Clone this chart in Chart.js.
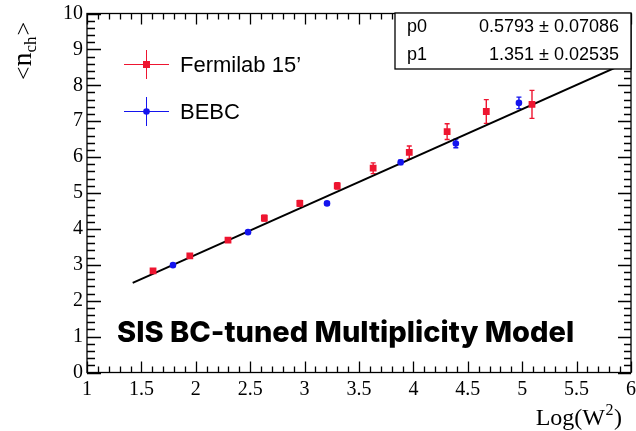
<!DOCTYPE html>
<html>
<head>
<meta charset="utf-8">
<script src="https://cdn.jsdelivr.net/npm/chart.js@4/dist/chart.umd.min.js"></script>
<style>
  html, body { margin: 0; padding: 0; background: #fff; }
  #wrap { width: 636px; height: 431px; position: relative; }
</style>
</head>
<body>
<div id="wrap"><canvas id="c" width="636" height="431"></canvas></div>
<script>
// Mean charged multiplicity vs Log(W^2)
const fermiX   = [1.607, 1.945, 2.296, 2.630, 2.956, 3.300, 3.630, 3.962, 4.310, 4.670, 5.090];
const fermiY   = [2.83, 3.25, 3.69, 4.30, 4.71, 5.20, 5.69, 6.13, 6.71, 7.27, 7.47];
const fermiErr = [0.05, 0.06, 0.05, 0.08, 0.08, 0.09, 0.15, 0.18, 0.22, 0.33, 0.39];

const bebcX   = [1.790, 2.480, 3.206, 3.883, 4.390, 4.970];
const bebcY   = [2.99, 3.91, 4.71, 5.855, 6.38, 7.51];
const bebcErr = [0.04, 0.04, 0.04, 0.06, 0.12, 0.16];

// Linear fit  <n_ch> = p0 + p1 * Log(W^2)
const p0 = 0.5793, p0Err = 0.07086;
const p1 = 1.351,  p1Err = 0.02535;
const fitRange = [1.42, 6.0];

const xTickValues = [1, 1.5, 2, 2.5, 3, 3.5, 4, 4.5, 5, 5.5, 6];
const yTickValues = [0, 1, 2, 3, 4, 5, 6, 7, 8, 9, 10];

const RED = '#ee1530';
const BLUE = '#1414ee';
const SERIF = '"Liberation Serif", "DejaVu Serif", serif';
const SANS = '"Liberation Sans", Arial, sans-serif';

const pts = (xs, ys) => xs.map((x, i) => ({ x, y: ys[i] }));
const fitPts = fitRange.map(x => ({ x, y: p0 + p1 * x }));

// vertical error bars with short caps
const errorBars = {
  id: 'errorBars',
  beforeDatasetsDraw(chart) {
    const { ctx, scales: { x, y } } = chart;
    const sets = [[fermiX, fermiY, fermiErr, RED], [bebcX, bebcY, bebcErr, BLUE]];
    ctx.save();
    ctx.lineWidth = 1.4;
    for (const [xs, ys, es, col] of sets) {
      ctx.strokeStyle = col;
      ctx.beginPath();
      xs.forEach((xv, i) => {
        const px = x.getPixelForValue(xv);
        const top = y.getPixelForValue(ys[i] + es[i]);
        const bot = y.getPixelForValue(ys[i] - es[i]);
        ctx.moveTo(px, top); ctx.lineTo(px, bot);
        ctx.moveTo(px - 2.5, top); ctx.lineTo(px + 2.5, top);
        ctx.moveTo(px - 2.5, bot); ctx.lineTo(px + 2.5, bot);
      });
      ctx.stroke();
    }
    ctx.restore();
  }
};

// frame, inward ticks on all sides, stats box, legend and texts
const decorations = {
  id: 'decorations',
  afterDraw(chart) {
    const { ctx, chartArea: a, scales: { x, y } } = chart;
    ctx.save();
    ctx.strokeStyle = '#000';
    ctx.lineWidth = 1.3;
    ctx.beginPath();
    for (let i = 0; i <= 50; i++) {
      const v = x.min + i * 0.1;
      const px = Math.round(x.getPixelForValue(v)) + 0.5;
      const len = i % 5 === 0 ? 11 : 6;
      ctx.moveTo(px, a.bottom); ctx.lineTo(px, a.bottom - len);
      ctx.moveTo(px, a.top); ctx.lineTo(px, a.top + len);
    }
    for (let i = 0; i <= 50; i++) {
      const v = y.min + i * 0.2;
      const py = Math.round(y.getPixelForValue(v)) + 0.5;
      const major = i % 5 === 0;
      ctx.moveTo(a.left, py); ctx.lineTo(a.left + (major ? 14 : 8), py);
      ctx.moveTo(a.right, py); ctx.lineTo(a.right - (major ? 13 : 7), py);
    }
    ctx.stroke();
    ctx.strokeRect(a.left, a.top, a.right - a.left, a.bottom - a.top);

    // fit parameter box
    const bx = a.right - 236, by = a.top - 0.5, bw = 236, bh = 56;
    ctx.fillStyle = '#fff';
    ctx.fillRect(bx, by, bw, bh);
    ctx.strokeRect(bx, by, bw, bh);
    ctx.fillStyle = '#000';
    ctx.font = '18px ' + SANS;
    ctx.textBaseline = 'middle';
    ctx.textAlign = 'left';
    ctx.fillText('p0', bx + 12, by + 14.5);
    ctx.fillText('p1', bx + 12, by + 42);
    ctx.textAlign = 'right';
    ctx.fillText(p0 + ' \u00b1 ' + p0Err, bx + bw - 12, by + 14.5);
    ctx.fillText(p1 + ' \u00b1 ' + p1Err, bx + bw - 12, by + 42);

    // legend
    const entries = [chart.data.datasets[0], chart.data.datasets[1]];
    entries.forEach((ds, i) => {
      const cx = 146.5, cy = 64.5 + i * 47;
      ctx.strokeStyle = ds.backgroundColor;
      ctx.lineWidth = 1;
      ctx.beginPath();
      ctx.moveTo(124, cy); ctx.lineTo(169, cy);
      ctx.moveTo(cx, cy - 14.5); ctx.lineTo(cx, cy + 14.5);
      ctx.stroke();
      ctx.fillStyle = ds.backgroundColor;
      if (ds.pointStyle === 'rect') {
        ctx.fillRect(cx - 3.5, cy - 3.5, 7, 7);
      } else {
        ctx.beginPath(); ctx.arc(cx, cy, 3.3, 0, Math.PI * 2); ctx.fill();
      }
      ctx.fillStyle = '#000';
      ctx.font = '22px ' + SANS;
      ctx.textAlign = 'left';
      ctx.textBaseline = 'middle';
      ctx.fillText(ds.label, 180, cy + 1);
    });

    // model label
    ctx.font = '800 29px Inter, "Liberation Sans", sans-serif';
    ctx.textAlign = 'left';
    ctx.textBaseline = 'middle';
    ctx.fillText('SIS BC-tuned Multiplicity Model', 117, 333);

    // x axis title: Log(W^2)
    ctx.textBaseline = 'alphabetic';
    ctx.textAlign = 'left';
    const partA = 'Log(W', partB = ')';
    ctx.font = '24px ' + SERIF;
    const wA = ctx.measureText(partA).width;
    const wB = ctx.measureText(partB).width;
    ctx.font = '16px ' + SERIF;
    const wS = ctx.measureText('2').width;
    const endX = 622, base = 425;
    const startX = endX - (wA + wS + 1 + wB);
    ctx.font = '24px ' + SERIF;
    ctx.fillText(partA, startX, base);
    ctx.font = '16px ' + SERIF;
    ctx.fillText('2', startX + wA + 0.5, base - 10);
    ctx.font = '24px ' + SERIF;
    ctx.fillText(partB, startX + wA + wS + 1, base);

    // y axis title: <n_ch>, rotated
    ctx.translate(31, 80);
    ctx.rotate(-Math.PI / 2);
    ctx.font = '24px ' + SERIF;
    ctx.fillText('<', 0, 0);
    let px = ctx.measureText('<').width;
    ctx.font = '28px ' + SERIF;
    ctx.fillText('n', px, 0);
    px += ctx.measureText('n').width;
    ctx.font = '17px ' + SERIF;
    ctx.fillText('ch', px, 5);
    px += ctx.measureText('ch').width + 1;
    ctx.font = '24px ' + SERIF;
    ctx.fillText('>', px, 0);
    ctx.restore();
  }
};

new Chart(document.getElementById('c'), {
  type: 'scatter',
  data: {
    datasets: [
      { label: 'Fermilab 15\u2019', data: pts(fermiX, fermiY), pointStyle: 'rect',
        backgroundColor: RED, borderColor: RED, borderWidth: 0, pointRadius: 4.8, order: 1 },
      { label: 'BEBC', data: pts(bebcX, bebcY), pointStyle: 'circle',
        backgroundColor: BLUE, borderColor: BLUE, borderWidth: 0, pointRadius: 3.3, order: 1 },
      { label: 'fit', data: fitPts, showLine: true, pointRadius: 0,
        borderColor: '#000', borderWidth: 2, order: 3 }
    ]
  },
  options: {
    responsive: false,
    animation: false,
    devicePixelRatio: 1,
    layout: { padding: { top: 13.5, right: 5, left: 0, bottom: 0 } },
    plugins: { legend: { display: false }, tooltip: { enabled: false } },
    scales: {
      x: {
        type: 'linear', min: 1, max: 6,
        afterBuildTicks: s => { s.ticks = xTickValues.map(v => ({ value: v })); },
        afterFit: s => { s.height = 58.5; s.paddingLeft = 0; s.paddingRight = 0; },
        ticks: { color: '#000', font: { family: SERIF, size: 20 }, padding: 5,
                 maxRotation: 0, autoSkip: false, callback: v => String(v) },
        grid: { display: false, drawTicks: false },
        border: { display: false }
      },
      y: {
        type: 'linear', min: 0, max: 10,
        afterBuildTicks: s => { s.ticks = yTickValues.map(v => ({ value: v })); },
        afterFit: s => { s.width = 87; s.paddingTop = 0; s.paddingBottom = 0; },
        ticks: { color: '#000', font: { family: SERIF, size: 20 }, padding: 4,
                 autoSkip: false, callback: v => String(v) },
        grid: { display: false, drawTicks: false },
        border: { display: false }
      }
    }
  },
  plugins: [errorBars, decorations]
});
</script>
</body>
</html>
